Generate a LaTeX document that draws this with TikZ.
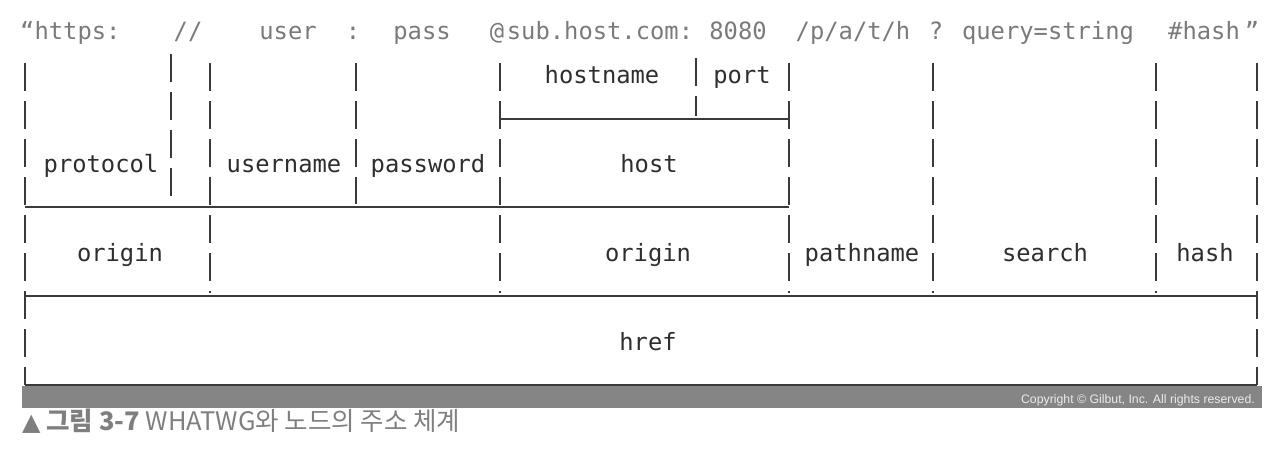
\documentclass[tikz,border=0pt]{standalone}
\usepackage{fontspec}
\newfontfamily\monofont{DejaVu Sans Mono}
\newfontfamily\krfont{Noto Sans CJK KR}
\newfontfamily\symfont{DejaVu Sans}
\newfontfamily\copyfont{Liberation Sans}
\definecolor{linec}{HTML}{3A3A3A}
\definecolor{toptext}{HTML}{7A7A7A}
\definecolor{labtext}{HTML}{2E2E2E}
\definecolor{barc}{HTML}{858585}
\definecolor{capc}{HTML}{7F7F7F}
\begin{document}
\begin{tikzpicture}[x=1pt,y=-1pt,
  pipe/.style={draw=linec,line width=2pt,dash pattern=on 28pt off 10pt},
  rule/.style={draw=linec,line width=2pt},
  toptxt/.style={inner sep=0pt,anchor=base,text=toptext,font=\monofont\fontsize{23.8}{28}\selectfont},
  lab/.style={inner sep=0pt,anchor=base,text=labtext,font=\monofont\fontsize{23.8}{28}\selectfont}]
\useasboundingbox (0,0) rectangle (1276,460);
% column coordinates
\foreach \n/\x in {c0/25,c1/171,c2/210,c3/356,c4/500,c5/696,c6/789,c7/933,c8/1156,c9/1257}{
  \coordinate (\n top) at (\x,63);
  \coordinate (\n r1) at (\x,119);
  \coordinate (\n r2) at (\x,207);
  \coordinate (\n r3) at (\x,296);
  \coordinate (\n r4) at (\x,385);
}
% gray bar
\fill[barc] (22,386) rectangle (1262,408);
\node[anchor=base east,inner sep=0pt,text=white!92!black,font=\copyfont\fontsize{12.3}{14}\selectfont] (copy) at (1255,403) {Copyright \textcopyright{} Gilbut, Inc. All rights reserved.};
% vertical pipes
\draw[pipe] (c0top) -- (c0r4);
\draw[pipe] ([yshift=9pt]c1top) -- ([yshift=3pt]c1r2);
\draw[pipe] (c2top) -- ([yshift=3pt]c2r3);
\draw[pipe] (c3top) -- ([yshift=3pt]c3r2);
\draw[pipe] (c4top) -- ([yshift=3pt]c4r3);
\draw[pipe] ([yshift=5pt]c5top) -- ([yshift=3pt]c5r1);
\draw[pipe] (c6top) -- ([yshift=3pt]c6r3);
\draw[pipe] (c7top) -- ([yshift=3pt]c7r3);
\draw[pipe] (c8top) -- ([yshift=3pt]c8r3);
\draw[pipe] (c9top) -- (c9r4);
% horizontal rules
\draw[rule] (c4r1) -- (c6r1);
\draw[rule] (c0r2) -- (c6r2);
\draw[rule] (c0r3) -- (c9r3);
\draw[rule] (c0r4) -- (c9r4);
% top line
\node[toptxt,anchor=base west] (t1) at (20,40) {“https:};
\node[toptxt] (t2) at (188,40) {//};
\node[toptxt] (t3) at (288,40) {user};
\node[toptxt] (t4) at (353,40) {:};
\node[toptxt] (t6b) at (422,40) {pass};
\node[toptxt] (t5) at (497,40) {@};
\node[toptxt] (t6) at (600,40) {sub.host.com:};
\node[toptxt] (t7) at (738,40) {8080};
\node[toptxt] (t8) at (853,40) {/p/a/t/h};
\node[toptxt] (t9) at (936,40) {?};
\node[toptxt] (t10) at (1048,40) {query=string};
\node[toptxt] (t11) at (1204,40) {\#hash};
\node[toptxt] (t12) at (1252,40) {”};
% labels
\node[lab] (hostname) at (602,83) {hostname};
\node[lab] (port) at (742,83) {port};
\node[lab] (protocol) at (101,172) {protocol};
\node[lab] (username) at (284,172) {username};
\node[lab] (password) at (428,172) {password};
\node[lab] (host) at (649,172) {host};
\node[lab] (origin1) at (120,261) {origin};
\node[lab] (origin2) at (648,261) {origin};
\node[lab] (pathname) at (862,261) {pathname};
\node[lab] (search) at (1045,261) {search};
\node[lab] (hash) at (1205,261) {hash};
\node[lab] (href) at (648,350) {href};
% caption
\node[anchor=base west,inner sep=0pt,text=capc,font=\krfont\fontsize{25.5}{28}\selectfont] (caption) at (22,430)
  {{\symfont\fontsize{24}{28}\selectfont ▲} {\bfseries 그림 3-7} WHATWG와 노드의 주소 체계};
\end{tikzpicture}
\end{document}
